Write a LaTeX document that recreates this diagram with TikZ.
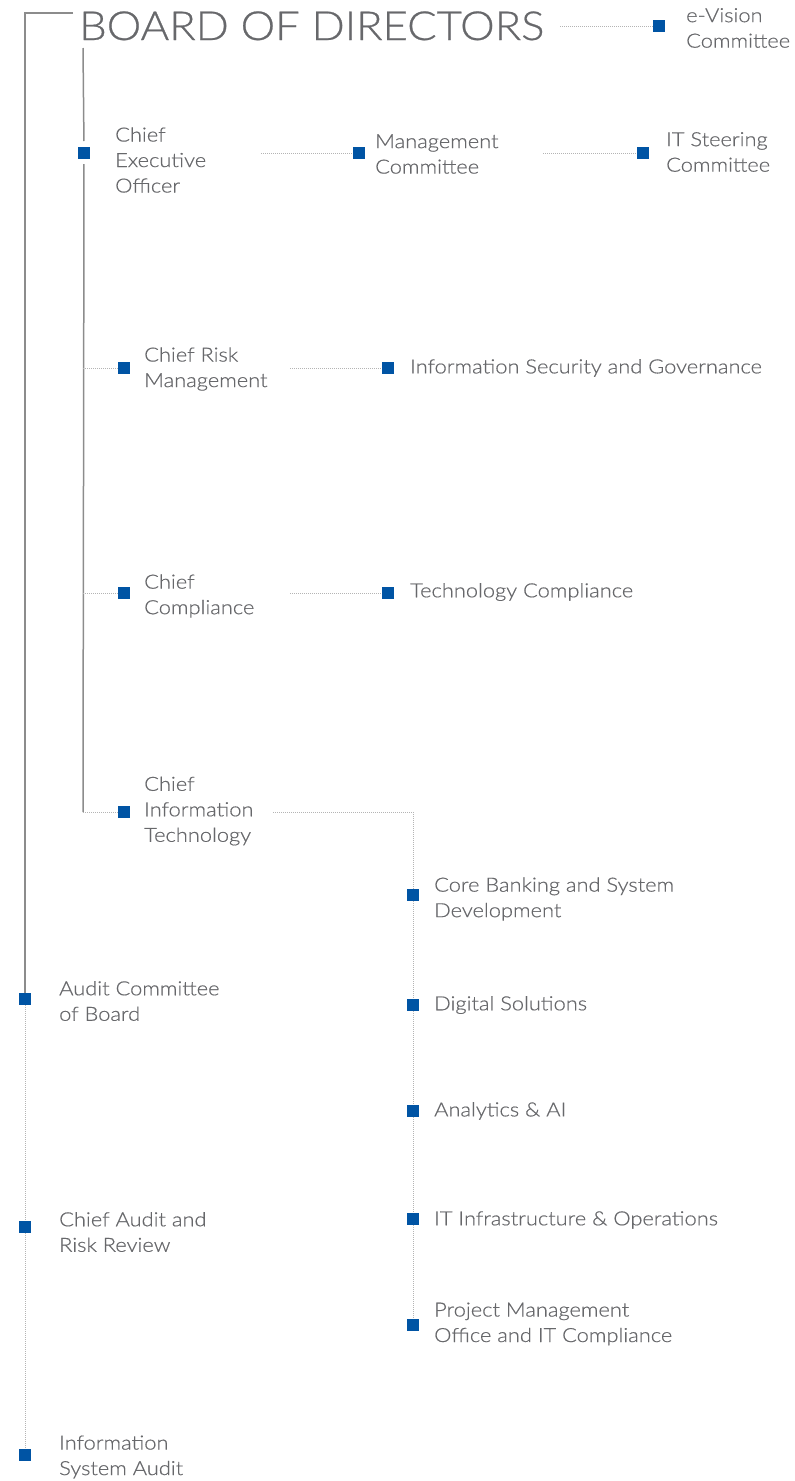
\documentclass[tikz,border=0pt]{standalone}
\usepackage{fontspec}
\setmainfont{Lato}[UprightFont=* Light]
\newfontfamily\bodyfont{Lato}[UprightFont=* Light,FakeStretch=1.12,FakeBold=0.6]
\newfontfamily\headfont{Lato}[UprightFont=* Light,FakeStretch=1.09,FakeBold=0.6]
\begin{document}
\definecolor{sqblue}{HTML}{0054A4}
\definecolor{txtgray}{HTML}{67686B}
\definecolor{solidgray}{HTML}{8C8C8C}
\definecolor{dotgray}{HTML}{B4B4B4}
\begin{tikzpicture}[x=1pt,y=-1pt,
  sq/.style={fill=sqblue,draw=none,minimum size=12pt,inner sep=0pt,outer sep=0pt},
  lbl/.style={anchor=west,align=left,inner sep=0pt,text=txtgray,
    font=\bodyfont\fontsize{19.5}{25.5}\selectfont},
  title/.style={anchor=base west,inner sep=0pt,text=txtgray,
    font=\headfont\fontsize{40}{44}\selectfont},
  solidline/.style={draw=solidgray,line width=1.5pt},
  dotline/.style={draw=dotgray,line width=1pt,dash pattern=on 1pt off 1pt}]
\useasboundingbox (0,0) rectangle (795,1481);

% title and top-level frame
\node[title] (bod) at (79,40) {BOARD OF DIRECTORS};
\coordinate (frameTL) at (25,13);
\coordinate (frameTR) at (73,13);
\coordinate (innerTop) at (83,48);
\coordinate (citCorner) at (83,812);

% marker squares
\node[sq] (sqEV)  at (659,26)   {};
\node[sq] (sqCEO) at (84,153)   {};
\node[sq] (sqMC)  at (359,153)  {};
\node[sq] (sqIT)  at (643,153)  {};
\node[sq] (sqCRM) at (124,368)  {};
\node[sq] (sqISG) at (388,368)  {};
\node[sq] (sqCC)  at (124,593)  {};
\node[sq] (sqTC)  at (388,593)  {};
\node[sq] (sqCIT) at (124,812)  {};
\node[sq] (sqCB)  at (413,895)  {};
\node[sq] (sqDS)  at (413,1005) {};
\node[sq] (sqAA)  at (413,1111) {};
\node[sq] (sqII)  at (413,1219) {};
\node[sq] (sqPM)  at (413,1325) {};
\node[sq] (sqAC)  at (25,999)   {};
\node[sq] (sqCA)  at (25,1227)  {};
\node[sq] (sqIS)  at (25,1455)  {};

% labels
\node[lbl] (tEV)  at (686,28)   {e-Vision\\Committee};
\node[lbl] (tCEO) at (115,160)  {Chief\\Executive\\Officer};
\node[lbl] (tMC)  at (375,154)  {Management\\Committee};
\node[lbl] (tIT)  at (666,152)  {IT Steering\\Committee};
\node[lbl] (tCRM) at (144,369)  {Chief Risk\\Management};
\node[lbl] (tISG) at (410,368)  {Information Security and Governance};
\node[lbl] (tCC)  at (144,596)  {Chief\\Compliance};
\node[lbl] (tTC)  at (410,592)  {Technology Compliance};
\node[lbl] (tCIT) at (144,811)  {Chief\\Information\\Technology};
\node[lbl] (tCB)  at (434,899)  {Core Banking and System\\Development};
\node[lbl] (tDS)  at (434,1005) {Digital Solutions};
\node[lbl] (tAA)  at (434,1111) {Analytics \& AI};
\node[lbl] (tII)  at (434,1220) {IT Infrastructure \& Operations};
\node[lbl] (tPM)  at (434,1324) {Project Management\\Office and IT Compliance};
\node[lbl] (tAC)  at (59,1001)  {Audit Committee\\of Board};
\node[lbl] (tCA)  at (59,1232)  {Chief Audit and\\Risk Review};
\node[lbl] (tIS)  at (59,1457)  {Information\\System Audit};

% connector start points beside the labels
\coordinate (evOut)  at (560,26);
\coordinate (ceoOut) at (261,153);
\coordinate (mcOut)  at (543,153);
\coordinate (crmOut) at (290,368);
\coordinate (ccOut)  at (290,593);
\coordinate (citOut) at (273,812);
\coordinate (citBend) at (413,812);

% solid reporting lines
\draw[solidline] (frameTR) -- (frameTL) -- (sqAC.north);
\draw[solidline,shorten >=6pt] (innerTop) -- (sqCEO.north);
\draw[solidline,shorten <=5pt] (sqCEO.south) -- (citCorner);

% dotted links
\draw[dotline] (evOut) -- (sqEV.west);
\draw[dotline] (ceoOut) -- (sqMC.west);
\draw[dotline] (mcOut) -- (sqIT.west);
\draw[dotline] (sqCRM.west -| innerTop) -- (sqCRM.west);
\draw[dotline] (crmOut) -- (sqISG.west);
\draw[dotline] (sqCC.west -| innerTop) -- (sqCC.west);
\draw[dotline] (ccOut) -- (sqTC.west);
\draw[dotline] (citCorner) -- (sqCIT.west);
\draw[dotline] (citOut) -- (citBend) -- (sqCB.north);
\draw[dotline] (sqCB.south) -- (sqDS.north);
\draw[dotline] (sqDS.south) -- (sqAA.north);
\draw[dotline] (sqAA.south) -- (sqII.north);
\draw[dotline] (sqII.south) -- (sqPM.north);
\draw[dotline] (sqAC.south) -- (sqCA.north);
\draw[dotline] (sqCA.south) -- (sqIS.north);
\end{tikzpicture}
\end{document}
